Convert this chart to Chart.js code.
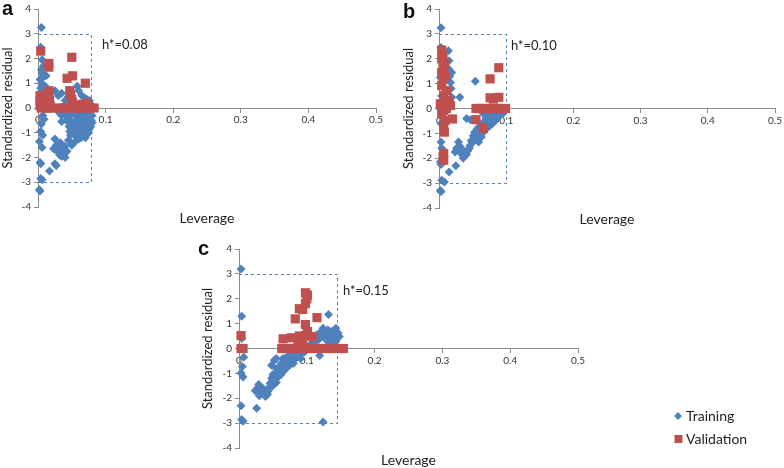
<!DOCTYPE html>
<html>
<head>
<meta charset="utf-8">
<script src="https://cdn.jsdelivr.net/npm/chart.js@4/dist/chart.umd.min.js"></script>
<style>
  body { margin: 0; background: #fff; width: 784px; height: 468px; overflow: hidden; position: relative; }
  canvas { position: absolute; }
</style>
</head>
<body>
<canvas id="chartA" width="390" height="232" style="left:0px;top:0px"></canvas>
<canvas id="chartB" width="384" height="232" style="left:400px;top:0px"></canvas>
<canvas id="chartC" width="594" height="228" style="left:190px;top:240px"></canvas>
<script>
// panel a  (leverage, standardized residual)
var trainLevA = [0.005, 0.004, 0.006, 0.005, 0.006, 0.003, 0.005, 0.004, 0.006, 0.004, 0.005, 0.003, 0.007, 0.005, 0.004, 0.007, 0.002, 0.006, 0.003, 0.004, 0.004, 0.006, 0.002, 0.003, 0.012, 0.010, 0.009,
  0.025, 0.035, 0.030, 0.045, 0.058, 0.060, 0.065, 0.069, 0.072, 0.076, 0.040, 0.052, 0.080,
  0.030, 0.035, 0.040, 0.045, 0.050, 0.055, 0.060, 0.065, 0.070, 0.075, 0.080, 0.042, 0.050, 0.058, 0.066, 0.074, 0.080, 0.078, 0.072, 0.060, 0.055,
  0.025, 0.027, 0.023, 0.030, 0.035, 0.040, 0.037, 0.030, 0.040, 0.045, 0.048, 0.052, 0.055, 0.058, 0.033,
  0.050, 0.055, 0.060, 0.064, 0.068, 0.072, 0.076, 0.065, 0.062, 0.070, 0.075,
  0.017, 0.027, 0.025,
  0.008, 0.006, 0.009, 0.035, 0.046, 0.053, 0.062, 0.068, 0.074, 0.079, 0.047, 0.056, 0.063, 0.071, 0.077, 0.038, 0.043, 0.032]
var trainResA = [3.25, 2.45, 1.95, 1.55, 1.40, 1.15, 1.00, 0.80, 0.60, 0.45, 0.20, 0.05, -0.30, -0.65, -0.95, -1.10, -1.35, -1.60, -2.20, -2.25, -2.85, -2.90, -3.30, -3.35, 1.30, 0.90, -0.45,
  0.70, 0.60, 0.50, 0.45, 0.88, 0.70, 0.50, 0.40, 0.35, 0.30, 0.30, 0.35, 0.10,
  -0.15, -0.30, -0.25, -0.35, -0.20, -0.30, -0.25, -0.20, -0.30, -0.25, -0.30, -0.50, -0.55, -0.50, -0.45, -0.55, -0.60, -0.75, -0.70, -0.65, -0.70,
  -1.25, -1.50, -1.65, -1.80, -1.95, -2.00, -1.70, -1.60, -1.55, -1.30, -1.10, -1.00, -0.90, -0.80, -1.40,
  -1.50, -1.35, -1.25, -1.20, -1.05, -0.95, -0.85, -0.95, -1.05, -1.20, -1.00,
  -2.55, -2.32, -2.25,
  1.70, 1.20, 0.70, -0.55, -0.75, -0.85, -0.45, -0.60, -0.40, -0.50, -0.95, -1.15, -0.80, -0.85, -0.65, -1.85, -1.75, -1.90]
var valLevA = [0.004, 0.016, 0.016, 0.050, 0.051, 0.043, 0.070,
  0.003, 0.003, 0.003, 0.005, 0.007, 0.008, 0.012, 0.016, 0.016, 0.017, 0.018, 0.015, 0.020,
  0.033, 0.038, 0.043, 0.047, 0.048, 0.050, 0.050, 0.052, 0.057, 0.060, 0.065, 0.068, 0.073, 0.076, 0.083]
var valResA = [2.30, 1.80, 1.65, 2.05, 1.30, 1.20, 1.00,
  0.50, 0.30, 0.10, 0.00, 0.40, 0.20, 0.00, 0.70, 0.50, 0.30, 0.10, 0.00, 0.00,
  0.00, 0.00, 0.00, 0.70, 0.55, 0.35, 0.15, 0.00, 0.10, 0.00, 0.15, 0.00, 0.20, 0.00, 0.00]

// panel b
var trainLevB = [0.003, 0.003, 0.002, 0.001, 0.003, 0.004, 0.002, 0.003, 0.004, 0.008, 0.002, 0.003, 0.004, 0.003,
  0.014, 0.015, 0.019, 0.017, 0.019, 0.031, 0.014, 0.013, 0.054,
  0.015, 0.025,
  0.029, 0.026, 0.031, 0.024, 0.034, 0.036, 0.041, 0.043, 0.046, 0.048, 0.051, 0.053, 0.057, 0.061, 0.066, 0.070, 0.075, 0.080, 0.085, 0.090, 0.095,
  0.053, 0.056, 0.061, 0.063, 0.059, 0.066, 0.071, 0.076, 0.081, 0.085, 0.090, 0.095,
  0.066, 0.071, 0.076, 0.081, 0.086, 0.074, 0.079, 0.084, 0.088, 0.041, 0.047, 0.098, 0.093,
  0.032, 0.038, 0.045, 0.050, 0.068, 0.072, 0.078, 0.083, 0.088, 0.092, 0.064, 0.058, 0.016, 0.018]
var trainResB = [3.25, 2.45, 1.25, 0.00, -1.35, -1.60, -2.15, -2.25, -2.88, -2.95, -3.30, -3.35, 0.50, -0.60,
  2.32, 1.92, 1.45, 1.05, 0.45, 0.45, 1.60, 0.20, 1.10,
  -2.55, -2.30,
  -1.35, -1.60, -1.70, -1.75, -1.85, -2.00, -1.85, -1.70, -1.50, -1.30, -1.10, -0.95, -0.80, -0.70, -0.55, -0.40, -0.30, -0.25, -0.15, -0.10, -0.05,
  -1.28, -1.15, -1.00, -1.15, -1.35, -0.95, -0.80, -0.68, -0.55, -0.45, -0.30, -0.20,
  -0.21, -0.28, -0.41, -0.35, -0.28, -0.55, -0.61, -0.48, -0.35, -0.40, -0.45, -0.10, -0.15,
  -1.55, -1.75, -1.60, -1.35, -0.75, -0.65, -0.50, -0.40, -0.25, -0.20, -0.85, -1.05, 1.30, 0.80]
var valLevB = [0.004, 0.006, 0.004, 0.008, 0.006, 0.004, 0.010, 0.006, 0.004, 0.011, 0.007, 0.013, 0.002, 0.015, 0.017, 0.007, 0.011, 0.004, 0.009, 0.007, 0.008, 0.020, 0.007, 0.007, 0.006,
  0.055, 0.066,
  0.055, 0.060, 0.065, 0.070, 0.075, 0.080, 0.085, 0.090, 0.095, 0.099,
  0.076, 0.081, 0.089, 0.076, 0.089]
var valResB = [2.35, 2.15, 1.99, 1.80, 1.60, 1.45, 1.30, 1.19, 0.92, 0.72, 0.52, 0.32, 0.19, 0.25, 0.12, -0.08, 0.00, -0.21, -0.48, -0.75, -0.95, -0.42, -1.81, -2.08, -1.95,
  -0.45, -0.80,
  0.00, 0.00, 0.00, 0.00, 0.00, 0.00, 0.00, 0.00, 0.00, 0.00,
  0.43, 0.38, 0.45, 1.19, 1.64]

// panel c
var trainLevC = [0.003, 0.004, 0.004, 0.007, 0.005, 0.003, 0.006, 0.003, 0.004, 0.006, 0.124, 0.132,
  0.026, 0.024, 0.027, 0.029, 0.030, 0.032, 0.035, 0.042, 0.043, 0.046, 0.048, 0.048, 0.052, 0.055, 0.057, 0.060, 0.062, 0.055, 0.065, 0.067, 0.070, 0.072, 0.074, 0.077, 0.079, 0.082, 0.084, 0.087, 0.089, 0.092, 0.094, 0.097, 0.102,
  0.039, 0.043, 0.049, 0.055, 0.057, 0.062, 0.065, 0.070, 0.075, 0.079, 0.084, 0.089, 0.094,
  0.107, 0.112, 0.117, 0.119, 0.121, 0.124, 0.128, 0.131, 0.133, 0.136, 0.138, 0.141, 0.143, 0.148, 0.127, 0.131, 0.136, 0.143, 0.119, 0.110, 0.100,
  0.036, 0.050, 0.060, 0.068, 0.080, 0.086, 0.091, 0.115, 0.125, 0.139, 0.146]
var trainResC = [3.20, 1.30, 0.40, -0.35, -0.72, -0.98, -1.15, -2.30, -2.85, -2.92, -2.95, 1.37,
  -2.40, -1.70, -1.60, -1.45, -1.90, -1.80, -1.60, -1.85, -1.60, -1.40, -1.20, -0.67, -0.47, -0.80, -0.95, -0.75, -0.60, -0.40, -0.40, -0.60, -0.35, -0.55, -0.30, -0.45, -0.20, -0.40, -0.20, -0.33, -0.13, -0.20, -0.07, -0.13, 0.00,
  -1.93, -1.72, -1.52, -1.37, -1.17, -1.05, -0.92, -0.79, -0.65, -0.52, -0.39, -0.25, -0.15,
  0.21, 0.28, 0.35, 0.41, 0.68, 0.81, 0.61, 0.74, 0.55, 0.68, 0.41, 0.74, 0.81, 0.48, 0.41, 0.28, 0.21, 0.28, -0.28, 0.10, 0.05,
  -1.75, -1.05, -0.95, -0.70, -0.60, -0.30, -0.40, 0.55, 0.45, 0.55, 0.62]
var valLevC = [0.003, 0.003, 0.006,
  0.063, 0.070, 0.077, 0.084, 0.090, 0.097, 0.103, 0.110, 0.118, 0.125, 0.132, 0.140, 0.147, 0.154,
  0.065, 0.077, 0.087, 0.089, 0.098, 0.101, 0.098, 0.108, 0.083, 0.089, 0.094, 0.098, 0.100, 0.098, 0.101, 0.115, 0.094]
var valResC = [0.52, 0.00, 0.00,
  0.00, 0.00, 0.00, 0.00, 0.00, 0.00, 0.00, 0.00, 0.00, 0.00, 0.00, 0.00, 0.00, 0.00,
  0.39, 0.43, 0.36, 0.50, 0.52, 0.68, 0.96, 0.48, 1.19, 1.60, 1.57, 1.80, 2.00, 2.24, 2.15, 1.24, 0.20]

var hStar = [0.078, 0.10, 0.145]
var hLabels = ['h*=0.08', 'h*=0.10', 'h*=0.15']
var panelLetters = ['a', 'b', 'c']
var seriesNames = ['Training', 'Validation']
var xTicks = [0, 0.1, 0.2, 0.3, 0.4, 0.5]
var yTicks = [-4, -3, -2, -1, 0, 1, 2, 3, 4]
var residualLimit = 3

var blue = '#4F81BD'
var red = '#C0504D'
var fontName = 'Lato, "Open Sans", sans-serif'

function pts(xs, ys) {
  return xs.map(function (x, i) { return { x: x, y: ys[i] } })
}

function makePanel(id, idx, trainLev, trainRes, valLev, valRes, lay) {
  var deco = {
    id: 'deco' + idx,
    beforeDatasetsDraw: function (chart) {
      var ctx = chart.ctx
      var x = chart.scales.x, y = chart.scales.y
      var x0 = x.getPixelForValue(0), x1 = x.getPixelForValue(hStar[idx])
      var yt = y.getPixelForValue(residualLimit), yb = y.getPixelForValue(-residualLimit)
      ctx.save()
      ctx.strokeStyle = blue
      ctx.lineWidth = 1
      ctx.setLineDash([3, 3])
      ctx.beginPath()
      ctx.moveTo(x0, Math.round(yt) + 0.5)
      ctx.lineTo(Math.round(x1) + 0.5, Math.round(yt) + 0.5)
      ctx.lineTo(Math.round(x1) + 0.5, Math.round(yb) + 0.5)
      ctx.lineTo(x0, Math.round(yb) + 0.5)
      ctx.stroke()
      ctx.restore()
    },
    afterDraw: function (chart) {
      var ctx = chart.ctx
      var a = chart.chartArea
      ctx.save()
      ctx.fillStyle = '#111'
      ctx.font = 'bold 20px Arial, "Liberation Sans", sans-serif'
      ctx.textBaseline = 'alphabetic'
      ctx.textAlign = 'left'
      ctx.fillText(panelLetters[idx], lay.letter[0], lay.letter[1])
      ctx.font = '13px ' + fontName
      ctx.fillStyle = '#222'
      ctx.textBaseline = 'middle'
      ctx.fillText(hLabels[idx], lay.hText[0], lay.hText[1])
      ctx.font = '14px ' + fontName
      ctx.textAlign = 'center'
      ctx.fillText('Leverage', (a.left + a.right) / 2, lay.levY)
      if (lay.legend) {
        var lx = lay.legend[0], ly = lay.legend[1]
        ctx.fillStyle = blue
        ctx.beginPath()
        ctx.moveTo(lx, ly - 4); ctx.lineTo(lx + 4, ly); ctx.lineTo(lx, ly + 4); ctx.lineTo(lx - 4, ly)
        ctx.closePath(); ctx.fill()
        ctx.fillStyle = red
        ctx.fillRect(lx - 3.5, ly + 19, 8, 8)
        ctx.fillStyle = '#222'
        ctx.textAlign = 'left'
        ctx.font = '14px ' + fontName
        ctx.fillText(seriesNames[0], lx + 8, ly)
        ctx.fillText(seriesNames[1], lx + 8, ly + 23)
      }
      ctx.restore()
    }
  }

  return new Chart(document.getElementById(id), {
    type: 'scatter',
    data: {
      datasets: [
        {
          label: seriesNames[0],
          data: pts(trainLev, trainRes),
          pointStyle: 'rectRot',
          pointRadius: 4.5,
          backgroundColor: blue,
          borderColor: blue,
          borderWidth: 0,
          order: 1,
          clip: false
        },
        {
          label: seriesNames[1],
          data: pts(valLev, valRes),
          pointStyle: 'rect',
          pointRadius: 6.5,
          backgroundColor: red,
          borderColor: red,
          borderWidth: 0,
          order: 0,
          clip: false
        }
      ]
    },
    options: {
      responsive: false,
      animation: false,
      devicePixelRatio: 1,
      layout: { padding: lay.pad },
      plugins: { legend: { display: false }, tooltip: { enabled: false } },
      scales: {
        x: {
          type: 'linear',
          position: { y: 0 },
          min: xTicks[0],
          max: xTicks[xTicks.length - 1],
          afterBuildTicks: function (s) { s.ticks = xTicks.map(function (v) { return { value: v } }) },
          border: { color: '#8c8c8c', width: 1 },
          grid: { drawOnChartArea: false, drawTicks: true, tickLength: 4, color: '#8c8c8c' },
          ticks: {
            color: '#333',
            font: { size: 10, family: fontName },
            padding: 2,
            maxRotation: 0,
            callback: function (v) { return String(+Number(v).toFixed(1)) }
          }
        },
        y: {
          type: 'linear',
          position: 'left',
          min: yTicks[0],
          max: yTicks[yTicks.length - 1],
          afterBuildTicks: function (s) { s.ticks = yTicks.map(function (v) { return { value: v } }) },
          afterFit: function (s) { s.width = lay.yW },
          border: { color: '#8c8c8c', width: 1 },
          grid: { drawOnChartArea: false, drawTicks: true, tickLength: 4, color: '#8c8c8c' },
          ticks: { color: '#333', font: { size: 10, family: fontName }, padding: 3 },
          title: {
            display: true,
            text: 'Standardized residual',
            color: '#222',
            font: { size: 13, family: fontName },
            padding: { top: lay.titlePad, bottom: 0 }
          }
        }
      }
    },
    plugins: [deco]
  })
}

makePanel('chartA', 0, trainLevA, trainResA, valLevA, valResA, {
  pad: { top: 5, right: 14, bottom: 25, left: 0 }, yW: 38, titlePad: 0,
  letter: [2, 15], hText: [102, 45], levY: 218
})
makePanel('chartB', 1, trainLevB, trainResB, valLevB, valResB, {
  pad: { top: 5, right: 9, bottom: 24, left: 0 }, yW: 39, titlePad: 1,
  letter: [3, 18], hText: [111, 46], levY: 219
})
makePanel('chartC', 2, trainLevC, trainResC, valLevC, valResC, {
  pad: { top: 7, right: 206, bottom: 20, left: 0 }, yW: 49, titlePad: 10,
  letter: [8, 15], hText: [153, 51], levY: 220, legend: [488, 176]
})
</script>
</body>
</html>
